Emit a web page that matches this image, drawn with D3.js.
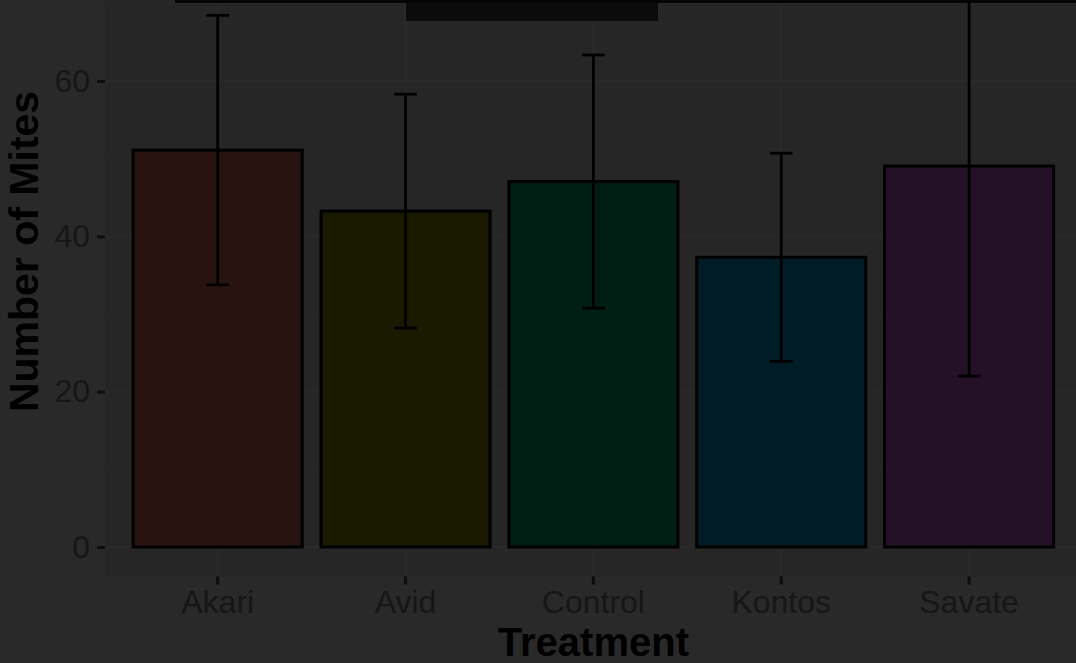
<!DOCTYPE html>
<html>
<head>
<meta charset="utf-8">
<script src="https://cdn.jsdelivr.net/npm/d3@7"></script>
<style>
  html, body { margin: 0; padding: 0; background: #292929; }
  svg { display: block; }
  text { font-family: "Liberation Sans", Arial, sans-serif; }
</style>
</head>
<body>
<script>
// ---- data ----
const categories = ["Akari", "Avid", "Control", "Kontos", "Savate"];
const means = [51.1, 43.25, 47.05, 37.3, 49.05];
const errors = [17.35, 15.05, 16.3, 13.4, 27.05];
const barColors = ["#281311", "#1a1a00", "#001e14", "#001c27", "#251127"];
const yTicks = [0, 20, 40, 60];
const yMinorTicks = [10, 30, 50, 70];
const xTitle = "Treatment";
const yTitle = "Number of Mites";

const W = 1076, H = 663;
const svg = d3.select("body").append("svg").attr("width", W).attr("height", H);

// background
svg.append("rect").attr("width", W).attr("height", H).attr("fill", "#292929");

// panel geometry (panel extends beyond the visible frame, like the cropped reference)
const panel = { left: 105, right: 1081.8, top: -73.6, bottom: 576.5 };

const yMax = d3.max(means.map((m, i) => m + errors[i]));
const pad = yMax * 0.05;
const y = d3.scaleLinear().domain([0 - pad, yMax + pad]).range([panel.bottom, panel.top]);

const x = d3.scaleBand().domain(categories)
  .range([panel.left, panel.right])
  .paddingInner(0.1).paddingOuter(0.15);
const step = x.step();
const cx = c => x(c) + x.bandwidth() / 2;

// panel background
svg.append("rect")
  .attr("x", panel.left).attr("y", panel.top)
  .attr("width", panel.right - panel.left).attr("height", panel.bottom - panel.top)
  .attr("fill", "#262626");

// gridlines
const grid = svg.append("g");
grid.selectAll(".minor").data(yMinorTicks).join("line")
  .attr("x1", panel.left).attr("x2", panel.right)
  .attr("y1", d => y(d)).attr("y2", d => y(d))
  .attr("stroke", "#292929").attr("stroke-width", 1);
grid.selectAll(".majorY").data(yTicks).join("line")
  .attr("x1", panel.left).attr("x2", panel.right)
  .attr("y1", d => y(d)).attr("y2", d => y(d))
  .attr("stroke", "#2a2a2a").attr("stroke-width", 2);
grid.selectAll(".majorX").data(categories).join("line")
  .attr("x1", d => cx(d)).attr("x2", d => cx(d))
  .attr("y1", panel.top).attr("y2", panel.bottom)
  .attr("stroke", "#2a2a2a").attr("stroke-width", 2);

// bars
svg.append("g").selectAll("rect").data(categories).join("rect")
  .attr("x", d => x(d))
  .attr("width", x.bandwidth())
  .attr("y", (d, i) => y(means[i]))
  .attr("height", (d, i) => y(0) - y(means[i]))
  .attr("fill", (d, i) => barColors[i])
  .attr("stroke", "#000").attr("stroke-width", 3);

// error bars
const capW = step * 0.12;
const eb = svg.append("g").attr("stroke", "#000").attr("stroke-width", 2.8);
categories.forEach((c, i) => {
  const hi = y(means[i] + errors[i]), lo = y(means[i] - errors[i]);
  eb.append("line").attr("x1", cx(c)).attr("x2", cx(c)).attr("y1", hi).attr("y2", lo);
  eb.append("line").attr("x1", cx(c) - capW / 2).attr("x2", cx(c) + capW / 2).attr("y1", hi).attr("y2", hi);
  eb.append("line").attr("x1", cx(c) - capW / 2).attr("x2", cx(c) + capW / 2).attr("y1", lo).attr("y2", lo);
});

// y axis
const yAxis = d3.axisLeft(y).tickValues(yTicks).tickSize(8).tickPadding(7).tickFormat(d3.format("d"));
const gy = svg.append("g").attr("transform", `translate(${panel.left},0)`).call(yAxis);
gy.select(".domain").remove();
gy.selectAll(".tick line").attr("stroke", "#0c0c0c").attr("stroke-width", 3);
gy.selectAll(".tick text").attr("fill", "#161616").attr("font-size", 32)
  .attr("font-family", "Liberation Sans, Arial, sans-serif");

// x axis
const xAxis = d3.axisBottom(x).tickSize(8).tickPadding(6);
const gx = svg.append("g").attr("transform", `translate(0,${panel.bottom})`).call(xAxis);
gx.select(".domain").remove();
gx.selectAll(".tick line").attr("stroke", "#0c0c0c").attr("stroke-width", 3);
gx.selectAll(".tick text").attr("fill", "#161616").attr("font-size", 32)
  .attr("font-family", "Liberation Sans, Arial, sans-serif");

// axis titles
svg.append("text")
  .attr("x", (panel.left + panel.right) / 2).attr("y", 656)
  .attr("text-anchor", "middle").attr("font-weight", "bold").attr("font-size", 40)
  .attr("fill", "#000").text(xTitle);

svg.append("text")
  .attr("transform", `translate(38,${(panel.top + panel.bottom) / 2}) rotate(-90)`)
  .attr("text-anchor", "middle").attr("font-weight", "bold").attr("font-size", 41)
  .attr("fill", "#000").text(yTitle);

// overlay artefacts at top of the frame
svg.append("rect").attr("x", 406).attr("y", 0).attr("width", 252).attr("height", 21).attr("fill", "#0b0b0b");
svg.append("rect").attr("x", 175).attr("y", 0).attr("width", W - 175).attr("height", 3).attr("fill", "#050505");
</script>
</body>
</html>
